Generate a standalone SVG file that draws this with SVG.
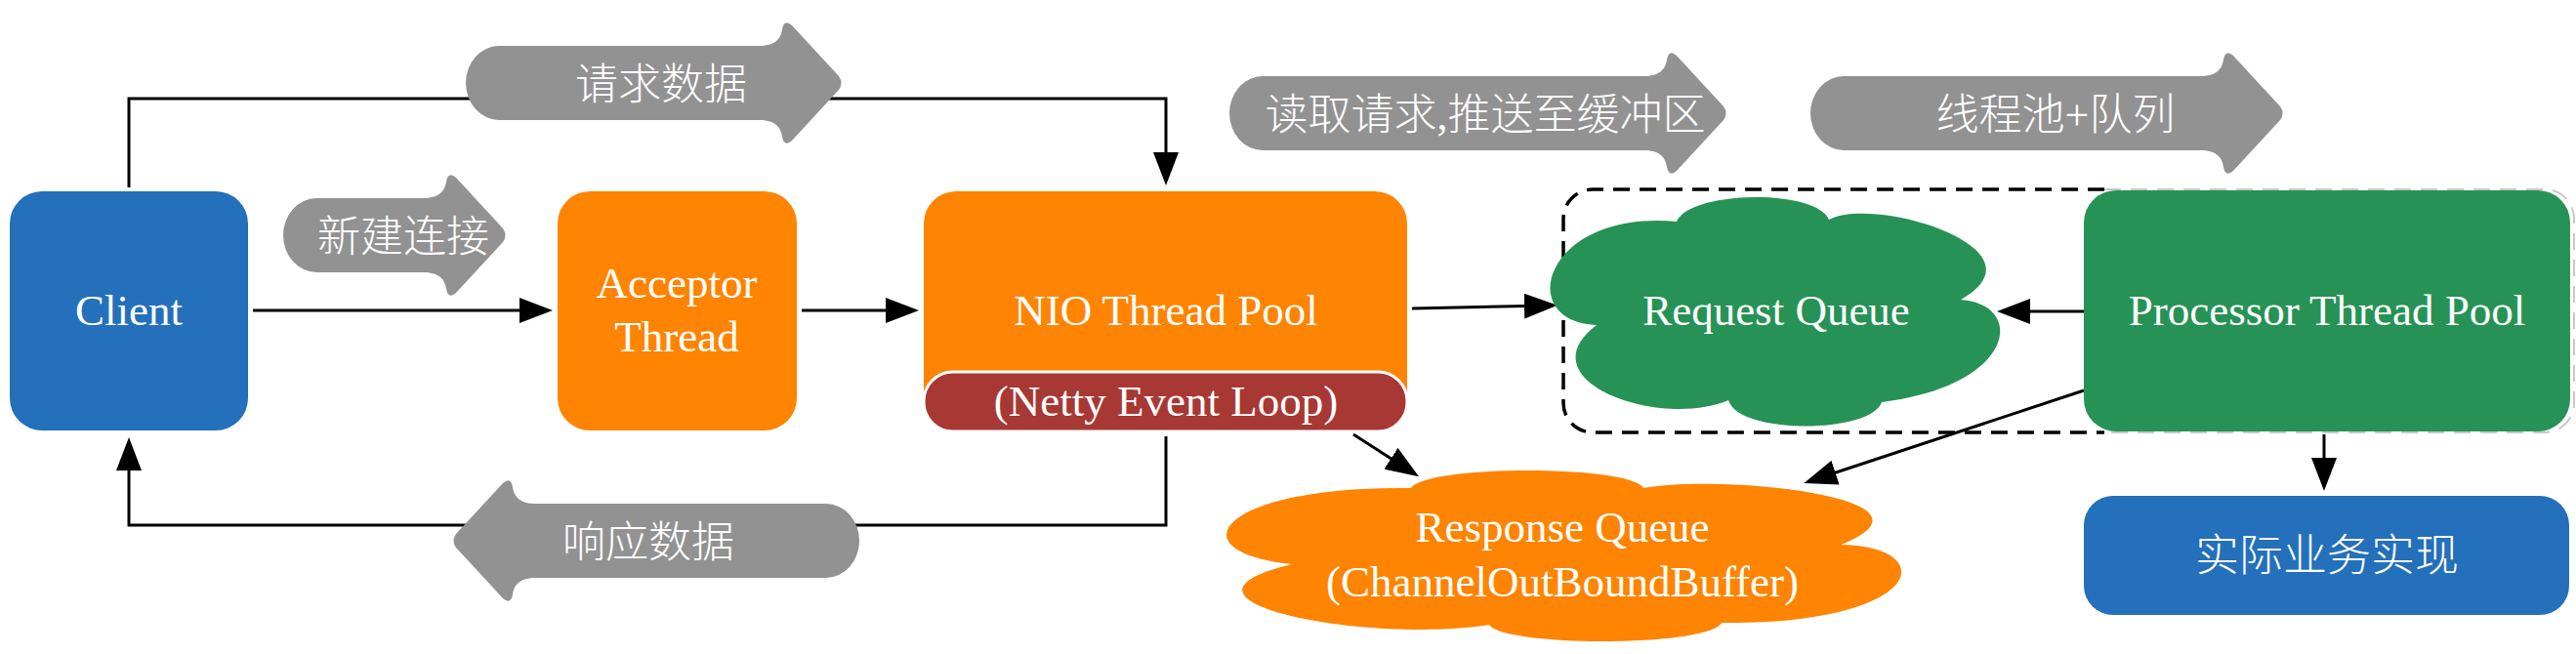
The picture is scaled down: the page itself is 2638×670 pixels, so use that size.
<svg xmlns="http://www.w3.org/2000/svg" width="2638" height="670" viewBox="0 0 2638 670">
<defs>
<style>
.t{font-family:'Liberation Serif','Noto Sans CJK SC',serif;fill:#fff;text-anchor:middle}
.lat{font-size:45px}
.cjk{font-size:44px;font-weight:300}
.conn{fill:none;stroke:#000;stroke-width:3;marker-end:url(#ah)}
.garrow{fill:#929292}
.blue{fill:#2470BA}
.orange{fill:#FE8402}
.green{fill:#279256}
</style>
<marker id="ah" markerUnits="userSpaceOnUse" viewBox="0 0 34 26" refX="28" refY="13" markerWidth="34" markerHeight="26" orient="auto">
<path d="M0,0 L34,13 L0,26 Z" fill="#000"/>
</marker>
</defs>
<rect width="2638" height="670" fill="#fff"/>

<g id="group-boundary">
<path d="M2155,194 H1631 A30,30 0 0 0 1601,224 V413 A30,30 0 0 0 1631,443 H2155" fill="none" stroke="#000" stroke-width="3.5" stroke-dasharray="17 10"/>
<path d="M2155,194 H2606 A30,30 0 0 1 2636,224 V413 A30,30 0 0 1 2606,443 H2155" fill="none" stroke="#c8c8c8" stroke-width="2" stroke-dasharray="17 10"/>
</g>

<g id="connectors">
<path class="conn" d="M259,318 H560"/>
<path class="conn" d="M821,318 H935"/>
<path class="conn" d="M132,192 V101 H1194 V184"/>
<path class="conn" d="M1194,447 V538 H132 V454"/>
<path class="conn" d="M1446,316 L1589,313"/>
<path class="conn" d="M2134,319 H2051"/>
<path class="conn" d="M1386,445 L1448,485"/>
<path class="conn" d="M2134,400 L1853,493"/>
<path class="conn" d="M2380,445 V497"/>
</g>

<g id="client">
<rect class="blue" x="10" y="196" width="244" height="245" rx="33"/>
<text class="t lat" x="132" y="333">Client</text>
</g>

<g id="acceptor">
<rect class="orange" x="571" y="196" width="245" height="245" rx="33"/>
<text class="t lat" x="693" y="305">Acceptor</text>
<text class="t lat" x="693" y="360">Thread</text>
</g>

<g id="nio-thread-pool">
<rect class="orange" x="946" y="196" width="495" height="245" rx="33"/>
<rect x="946" y="381" width="495" height="61" rx="30" fill="#A83834" stroke="#fff" stroke-width="3"/>
<text class="t lat" x="1194" y="333">NIO Thread Pool</text>
<text class="t lat" x="1194" y="426">(Netty Event Loop)</text>
</g>

<g id="request-queue">
<path class="green" d="M1635,333 C1550,330 1580,215 1717,227 C1730,195 1860,193 1873,225 C1920,200 2100,255 2008,307 C2075,312 2065,395 1927,412 C1915,445 1780,445 1770,410 C1700,440 1560,390 1635,333 Z"/>
<text class="t lat" x="1819" y="333">Request Queue</text>
</g>

<g id="processor-thread-pool">
<rect class="green" x="2134" y="195" width="498" height="247" rx="33"/>
<text class="t lat" x="2383" y="333">Processor Thread Pool</text>
</g>

<g id="business-impl">
<rect class="blue" x="2134" y="508" width="497" height="122" rx="30"/>
<text class="t" style="font-size:45px;font-weight:300" x="2383" y="585">实际业务实现</text>
</g>

<g id="response-queue">
<path class="orange" d="M1323,578 C1200,565 1250,497 1445,500 C1460,476 1670,476 1683,500 C1760,485 2005,510 1885,558 C1990,560 1970,640 1763,638 C1750,663 1540,663 1525,640 C1400,660 1170,615 1323,578 Z"/>
<text class="t lat" x="1600" y="555">Response Queue</text>
<text class="t lat" x="1600" y="611">(ChannelOutBoundBuffer)</text>
</g>

<g id="label-request-data">
<path class="garrow" transform="translate(477,85)" d="M34,-38 H301 C318,-38 323,-47 324,-55 Q326,-66 334,-59 L382,-7 Q387,0 382,7 L334,59 Q326,66 324,55 C323,47 318,38 301,38 H34 A34,38 0 0 1 34,-38 Z"/>
<text class="t cjk" x="677" y="102">请求数据</text>
</g>

<g id="label-new-connection">
<path class="garrow" transform="translate(290,241)" d="M34,-38 H144 C161,-38 166,-47 167,-55 Q169,-66 177,-59 L225,-7 Q230,0 225,7 L177,59 Q169,66 167,55 C166,47 161,38 144,38 H34 A34,38 0 0 1 34,-38 Z"/>
<text class="t cjk" x="413" y="258">新建连接</text>
</g>

<g id="label-read-request">
<path class="garrow" transform="translate(1259,116)" d="M34,-38 H425 C442,-38 447,-47 448,-55 Q450,-66 458,-59 L506,-7 Q511,0 506,7 L458,59 Q450,66 448,55 C447,47 442,38 425,38 H34 A34,38 0 0 1 34,-38 Z"/>
<text class="t cjk" x="1521" y="133">读取请求,推送至缓冲区</text>
</g>

<g id="label-threadpool-queue">
<path class="garrow" transform="translate(1854,116)" d="M34,-38 H400 C417,-38 422,-47 423,-55 Q425,-66 433,-59 L481,-7 Q486,0 481,7 L433,59 Q425,66 423,55 C422,47 417,38 400,38 H34 A34,38 0 0 1 34,-38 Z"/>
<text class="t cjk" x="2105" y="133">线程池+队列</text>
</g>

<g id="label-response-data">
<path class="garrow" transform="translate(880,554) scale(-1,1)" d="M34,-38 H332 C349,-38 354,-47 355,-55 Q357,-66 365,-59 L413,-7 Q418,0 413,7 L365,59 Q357,66 355,55 C354,47 349,38 332,38 H34 A34,38 0 0 1 34,-38 Z"/>
<text class="t cjk" x="664" y="571">响应数据</text>
</g>
</svg>
